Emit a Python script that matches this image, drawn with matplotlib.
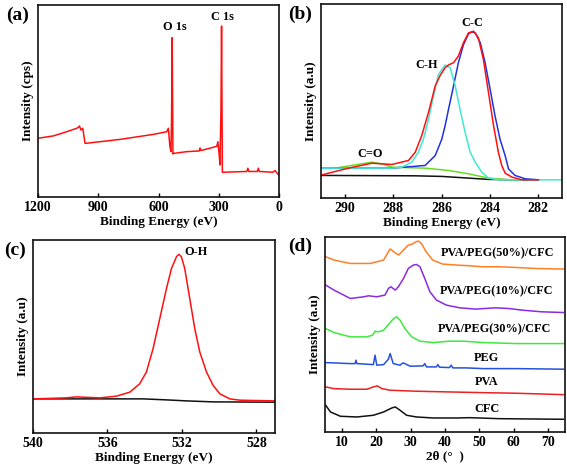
import matplotlib
matplotlib.use('Agg')
import matplotlib.pyplot as plt

plt.rcParams['font.family'] = ['Liberation Serif', 'DejaVu Serif']
plt.rcParams['font.weight'] = 'bold'
plt.rcParams['axes.labelweight'] = 'bold'

# ---------------- Panel (a): XPS survey ----------------
a_energy = [1200, 1124, 1057, 1007, 999, 994, 986, 977, 966, 958, 792, 626, 559, 551,
            543, 538, 535, 532, 528, 526, 460, 397, 393, 389, 327, 310, 304, 297, 294,
            289, 286, 282, 275, 160, 155, 150, 108, 103, 98, 30, 20, 10, 0]
a_intensity = [30.6, 31.8, 34.0, 35.8, 36.3, 37.0, 34.9, 35.8, 28.0, 28.0, 30.0, 32.6, 34.0, 35.8,
               26.2, 23.6, 40.0, 83.0, 22.4, 22.7, 23.6, 24.0, 25.5, 24.2, 25.9, 26.4, 28.8, 21.0, 16.7,
               45.0, 89.0, 12.9, 12.9, 13.3, 15.0, 13.3, 13.3, 15.0, 13.3, 12.9, 13.8, 12.5, 11.2]
a_labels = ["O 1s", "C 1s"]
a_label_pos = [(518, 88.7), (280, 93.6)]

# ---------------- Panel (b): C 1s high resolution ----------------
b_env_e = [291.06, 289.86, 288.89, 288.06, 287.37, 287.09, 286.82, 286.54, 286.26, 286.06,
           285.85, 285.71, 285.50, 285.30, 285.09, 284.88, 284.74, 284.67, 284.47, 284.26,
           284.05, 283.84, 283.64, 283.50, 283.36, 283.08, 282.67, 281.98]
b_env_i = [22.7, 30.0, 35.0, 33.7, 37.7, 46.0, 62.7, 86.0, 112.7, 123.0,
           131.0, 133.7, 136.0, 142.7, 156.0, 166.0, 167.0, 167.7, 161.0, 139.0,
           106.0, 72.7, 46.0, 32.7, 25.0, 21.0, 18.3, 18.3]
b_cc_e = [291.06, 288.06, 286.68, 286.26, 285.99, 285.85, 285.71, 285.50, 285.30, 285.09,
          284.88, 284.74, 284.60, 284.39, 284.19, 283.98, 283.78, 283.57, 283.36, 283.22,
          282.95, 282.53, 281.98]
b_cc_i = [30.0, 30.0, 32.7, 42.7, 59.0, 72.7, 89.0, 112.7, 136.0, 154.0,
          165.0, 167.0, 166.0, 156.0, 136.0, 109.0, 82.7, 59.0, 42.7, 29.3,
          22.7, 19.3, 18.3]
b_ch_e = [291.06, 288.06, 287.65, 287.23, 286.96, 286.75, 286.54, 286.33, 286.13, 285.85,
          285.64, 285.43, 285.23, 285.02, 284.81, 284.60, 284.33, 284.05, 283.64, 281.05]
b_ch_i = [30.0, 30.0, 31.0, 36.0, 46.0, 59.0, 79.0, 102.7, 124.0, 133.7,
          131.0, 112.7, 89.0, 66.0, 46.0, 36.0, 26.0, 20.0, 18.3, 18.3]
b_co_e = [290.41, 289.58, 288.89, 288.48, 288.06, 286.68, 285.71, 284.88, 284.05, 283.22, 282.67]
b_co_i = [30.0, 33.3, 36.0, 34.3, 31.0, 30.0, 27.7, 24.3, 20.0, 18.3, 18.3]
b_bg_e = [291.06, 287.09, 285.99, 284.88, 284.05, 282.95, 281.98]
b_bg_i = [22.7, 22.3, 21.7, 20.0, 18.7, 18.3, 18.3]
b_labels = ["C-C", "C-H", "C=O"]
b_label_pos = [(284.74, 176.0), (286.6, 133.7), (288.96, 44.3)]

# ---------------- Panel (c): O 1s high resolution ----------------
c_e = [540.0, 538.21, 537.67, 536.42, 535.52, 534.80, 534.27, 533.91, 533.55, 533.19,
       532.83, 532.56, 532.29, 532.17, 532.03, 531.85, 531.58, 531.31, 531.04, 530.68,
       530.32, 529.96, 529.43, 528.89, 527.01]
c_i = [34.0, 35.0, 36.0, 35.0, 36.7, 40.7, 49.0, 60.7, 84.0, 114.0,
       144.0, 164.0, 175.7, 178.0, 175.7, 164.0, 134.0, 104.0, 80.7, 60.7,
       47.3, 39.0, 34.0, 32.7, 32.0]
c_bg_e = [540.0, 534.09, 532.83, 531.76, 530.32, 527.01]
c_bg_i = [34.0, 34.0, 33.0, 32.0, 31.0, 30.7]
c_labels = ["O-H"]
c_label_pos = [(531.27, 180.7)]

# ---------------- Panel (d): XRD ----------------
d_names = ["PVA/PEG(50%)/CFC", "PVA/PEG(10%)/CFC", "PVA/PEG(30%)/CFC", "PEG", "PVA", "CFC"]
d_colors = ["#ff7f27", "#8a2be2", "#3ee83e", "#2550e0", "#ee2020", "#111111"]
d_50_x = [5.2, 7.6, 12.4, 18.2, 22.1, 23.5, 24.0, 25.0, 26.5, 27.9, 29.3, 30.3, 31.2, 32.1,
          33.1, 34.5, 36.4, 39.3, 43.2, 47.0, 50.9, 55.7, 60.5, 66.3, 74.5]
d_50_y = [175.0, 171.7, 168.3, 168.3, 171.7, 180.0, 182.7, 180.0, 176.7, 181.7, 186.7, 187.3,
          189.3, 190.7, 188.3, 180.0, 171.7, 167.7, 166.7, 166.0, 165.0, 165.0, 164.3, 163.3, 162.7]
d_10_x = [5.2, 7.6, 12.4, 16.3, 17.7, 20.1, 22.5, 23.5, 24.2, 25.5, 26.4, 27.9, 29.3, 30.8,
          31.7, 32.7, 34.1, 35.6, 37.5, 40.4, 44.3, 48.9, 54.7, 58.6, 62.4, 68.2, 74.5]
d_10_y = [146.7, 141.7, 133.3, 135.0, 136.0, 135.0, 136.7, 143.3, 145.0, 141.7, 145.0, 153.3,
          163.3, 166.7, 167.3, 165.0, 153.3, 140.0, 131.7, 126.7, 124.0, 122.7, 124.0, 123.3,
          121.7, 120.0, 119.3]
d_30_x = [5.2, 7.6, 12.4, 17.2, 18.9, 19.6, 20.6, 22.1, 23.5, 25.0, 25.9, 26.9, 28.3, 30.3,
          32.7, 36.6, 41.4, 45.3, 51.1, 60.8, 74.5]
d_30_y = [103.3, 99.3, 95.0, 95.0, 96.7, 100.7, 100.0, 101.7, 107.3, 113.3, 115.0, 111.7,
          103.3, 95.0, 90.7, 89.3, 90.7, 90.7, 89.3, 88.3, 88.3]
d_peg_x = [5.2, 12.4, 13.8, 14.0, 14.3, 19.1, 19.6, 20.1, 22.1, 23.5, 24.0, 24.9, 26.9, 27.7,
           28.3, 29.8, 33.6, 34.1, 34.6, 37.5, 37.9, 38.4, 41.3, 41.8, 42.3, 46.2, 51.1, 60.8, 74.5]
d_peg_y = [69.3, 68.3, 68.3, 71.7, 68.3, 67.3, 76.7, 66.7, 67.3, 72.7, 78.3, 68.3, 66.7, 69.0,
           68.3, 65.7, 66.0, 68.3, 65.0, 65.0, 67.3, 64.7, 64.3, 66.7, 64.0, 64.0, 63.3, 63.3, 62.7]
d_pva_x = [5.2, 7.6, 12.4, 17.2, 19.1, 20.3, 21.6, 24.0, 31.7, 41.4, 51.1, 60.8, 74.5]
d_pva_y = [45.0, 43.3, 42.7, 42.7, 45.0, 46.0, 43.3, 41.7, 40.7, 40.0, 39.3, 38.7, 37.3]
d_cfc_x = [5.2, 6.6, 9.5, 14.3, 19.1, 22.1, 24.5, 25.5, 26.9, 28.8, 31.7, 36.6, 43.3, 47.2,
           55.9, 74.5]
d_cfc_y = [26.7, 20.0, 15.7, 15.0, 16.7, 20.0, 24.0, 25.0, 21.7, 16.7, 15.0, 14.0, 14.0, 14.3,
           13.3, 12.7]
d_label_pos = [(55.4, 178.0), (54.9, 140.0), (54.4, 103.0), (52.2, 74.0), (52.2, 50.0), (52.2, 22.7)]

# ---------------- Figure ----------------
fig = plt.figure(figsize=(5.67, 4.71), dpi=100)
W, H = 567.0, 471.0

def make_ax(l, r, t, b):
    return fig.add_axes([l / W, 1 - b / H, (r - l) / W, (b - t) / H])

axa = make_ax(38, 279, 5, 197)
axb = make_ax(321, 562, 4, 198)
axc = make_ax(33, 275, 240, 433)
axd = make_ax(325, 565, 237, 432)

TICK_FS = 10
LAB_FS = 9.5
ANN_FS = 8.8

def style(ax):
    for s in ax.spines.values():
        s.set_linewidth(1.2)
        s.set_color('#111111')
    ax.set_yticks([])
    ax.tick_params(axis='x', direction='in', length=3, width=1, labelsize=TICK_FS, pad=3)
    for lab in ax.get_xticklabels():
        lab.set_fontweight('bold')

# (a)
axa.plot(a_energy, a_intensity, color='#ff1010', lw=1.1)
axa.set_xlim(1200, 0)
axa.set_ylim(0, 100)
axa.set_xticks([1200, 900, 600, 300, 0])
axa.set_xlabel("Binding Energy (eV)", fontsize=LAB_FS, labelpad=1)
axa.set_ylabel("Intensity (cps)", fontsize=LAB_FS, labelpad=3)
for t, (x, y) in zip(a_labels, a_label_pos):
    axa.text(x, y, t, ha='center', va='center', fontsize=ANN_FS, fontweight='bold')
style(axa)

# (b)
axb.plot(b_bg_e, b_bg_i, color='#111111', lw=1.1)
axb.plot(b_co_e, b_co_i, color='#66dd22', lw=1.1)
axb.plot(b_cc_e, b_cc_i, color='#2233dd', lw=1.1)
axb.plot(b_ch_e, b_ch_i, color='#40e8d0', lw=1.1)
axb.plot(b_env_e, b_env_i, color='#ff1010', lw=1.1)
axb.set_xlim(291, 281)
axb.set_ylim(0, 195)
axb.set_xticks([290, 288, 286, 284, 282])
axb.set_xlabel("Binding Energy (eV)", fontsize=LAB_FS, labelpad=1)
axb.set_ylabel("Intensity (a.u)", fontsize=LAB_FS, labelpad=3)
for t, (x, y) in zip(b_labels, b_label_pos):
    axb.text(x, y, t, ha='center', va='center', fontsize=ANN_FS, fontweight='bold')
style(axb)

# (c)
axc.plot(c_bg_e, c_bg_i, color='#111111', lw=1.1)
axc.plot(c_e, c_i, color='#ff1010', lw=1.1)
axc.set_xlim(540, 527)
axc.set_ylim(0, 192.3)
axc.set_xticks([540, 536, 532, 528])
axc.set_xlabel("Binding Energy (eV)", fontsize=LAB_FS, labelpad=1)
axc.set_ylabel("Intensity (a.u)", fontsize=LAB_FS, labelpad=3)
for t, (x, y) in zip(c_labels, c_label_pos):
    axc.text(x, y, t, ha='center', va='center', fontsize=ANN_FS, fontweight='bold')
style(axc)

# (d)
d_series = [(d_50_x, d_50_y), (d_10_x, d_10_y), (d_30_x, d_30_y),
            (d_peg_x, d_peg_y), (d_pva_x, d_pva_y), (d_cfc_x, d_cfc_y)]
for (xs, ys), c in zip(d_series, d_colors):
    axd.plot(xs, ys, color=c, lw=1.1)
for name, (x, y) in zip(d_names, d_label_pos):
    axd.text(x, y, name, ha='center', va='center', fontsize=ANN_FS, fontweight='bold')
axd.set_xlim(5, 75)
axd.set_ylim(0, 194.7)
axd.set_xticks([10, 20, 30, 40, 50, 60, 70])
axd.set_xlabel("2θ (°  )", fontsize=LAB_FS, labelpad=1)
axd.set_ylabel("Intensity (a.u)", fontsize=LAB_FS, labelpad=3)
style(axd)

# panel letters
fig.text(18 / W, 1 - 15 / H, "(a)", ha='center', va='center', fontsize=14, fontweight='bold')
fig.text(300 / W, 1 - 14 / H, "(b)", ha='center', va='center', fontsize=14, fontweight='bold')
fig.text(15 / W, 1 - 250 / H, "(c)", ha='center', va='center', fontsize=14, fontweight='bold')
fig.text(300 / W, 1 - 246 / H, "(d)", ha='center', va='center', fontsize=14, fontweight='bold')

fig.savefig("out.png", dpi=100)
